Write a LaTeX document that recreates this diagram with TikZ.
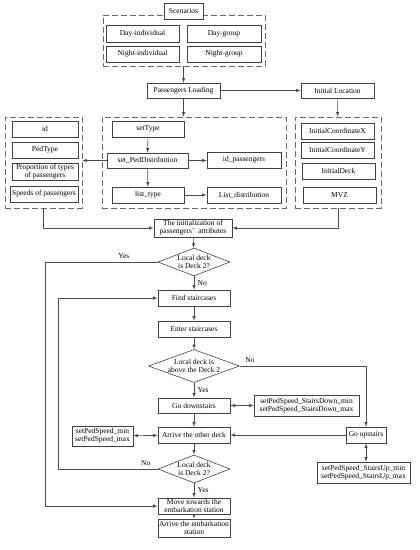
\documentclass[tikz,border=0pt]{standalone}
\usepackage{fontspec}
\setmainfont{Liberation Serif}
\usetikzlibrary{shapes.geometric}

\begin{document}
\begin{tikzpicture}[x=1pt,y=-1pt,>=latex,line width=0.6pt,
  every node/.style={font=\fontsize{7.5}{8.2}\selectfont},
  box/.style={draw=black!75,fill=white,inner sep=1pt,minimum width=73pt,minimum height=16pt,align=center},
  group/.style={draw=black!60,dash pattern=on 6pt off 3pt,minimum height=91pt,inner sep=0pt},
  decision/.style={draw=black!75,diamond,aspect=2.5,inner sep=0pt,align=center},
  line/.style={draw=black!70}]
\useasboundingbox (0,0) rectangle (420,550);

% scenarios
\node[group,minimum width=162pt,minimum height=51pt] (scen) at (184,40.5) {};
\node[box,minimum width=39pt] (scenarios) at (183.5,11) {Scenarios};
\node[box,minimum height=17pt] (dayind) at (142.5,33.5) {Day-individual};
\node[box,minimum width=74pt,minimum height=17pt] (daygrp) at (224,33.5) {Day-group};
\node[box] (nightind) at (142.5,54) {Night-individual};
\node[box,minimum width=74pt] (nightgrp) at (224,54) {Night-group};

\node[box,minimum height=15pt] (pl) at (183.5,90.5) {Passengers Loading};
\node[box,minimum height=15pt] (il) at (337.5,90.5) {Initial Location};

% attribute groups
\node[group,minimum width=77pt] (attr) at (43.5,162.5) {};
\node[box,minimum width=66pt] (id) at (45,129) {id};
\node[box,minimum width=66pt] (pedtype) at (45,150) {PedType};
\node[box,minimum width=66pt] (prop) at (45,172) {Proportion of types\\of passengers};
\node[box,minimum width=68pt] (speeds) at (44,194) {Speeds of passengers};

\node[group,minimum width=184pt] (dist) at (194,162.5) {};
\node[box,minimum width=72pt] (settype) at (148,129) {setType};
\node[box,minimum width=81pt,minimum height=15pt] (setdist) at (147.5,160.5) {set\_PedDistribution};
\node[box,minimum width=72pt] (listtype) at (148,195) {list\_type};
\node[box,minimum width=74pt] (idp) at (244,160) {id\_passengers};
\node[box,minimum width=74pt] (listdist) at (244,195) {List\_distribution};

\node[group,minimum width=86pt] (loc) at (338,162.5) {};
\node[box] (icx) at (337.5,131) {InitialCoordinateX};
\node[box] (icy) at (337.5,150) {InitialCoordinateY};
\node[box] (ideck) at (338.5,171) {InitialDeck};
\node[box] (mvz) at (339.5,195) {MVZ};

\node[box,minimum width=78pt,minimum height=18pt] (init) at (193,228) {The initialization of\\passengers’\ \ attributes};

% movement
\node[decision,minimum width=72pt,minimum height=28pt] (d1) at (194,262) {Local deck\\is Deck 2?};
\node[box,minimum width=72pt] (find) at (194,298) {Find staircases};
\node[box,minimum width=72pt] (enter) at (194,329) {Enter staircases};
\node[decision,aspect=2.7,minimum width=91pt,minimum height=33pt] (d2) at (194,366) {Local deck is\\above the Deck 2};
\node[box,minimum width=72pt,minimum height=15pt] (down) at (194,405.5) {Go downstairs};
\node[box,minimum width=105pt,minimum height=21pt] (sdown) at (306.5,405.5) {setPedSpeed\_StairsDown\_min\\setPedSpeed\_StairsDown\_max};
\node[box,minimum width=72pt] (arrive) at (194,435) {Arrive the other deck};
\node[box,minimum width=40pt] (up) at (366,435) {Go upstairs};
\node[box,minimum width=61pt,minimum height=20pt] (spd) at (102.5,436) {setPedSpeed\_min\\setPedSpeed\_max};
\node[box,minimum width=93pt,minimum height=21pt] (upspeed) at (363.5,472.5) {setPedSpeed\_StairsUp\_min\\setPedSpeed\_StairsUp\_max};
\node[decision,minimum width=72pt,minimum height=28pt] (d3) at (194,469) {Local deck\\is Deck 2?};
\node[box,minimum width=72pt] (move) at (194,506) {Move towards the\\embarkation station};
\node[box,minimum width=72pt,minimum height=18pt] (arrival) at (194,528) {Arrive the embarkation\\station};

\coordinate (outer) at (45,262);
\coordinate (inner) at (58,469);

\draw[line,->] (scen.south -| scenarios) -- (pl);
\draw[line,->] (pl) -- (pl.south |- dist.north);
\draw[line,->] (pl) -- (il);
\draw[line,->] (il) -- (loc);
\draw[line,->] (settype) -- (setdist);
\draw[line,->] (setdist) -- (listtype);
\draw[line,->] (setdist) -- (setdist -| idp.west);
\draw[line,->] (listtype) -- (listdist);
\draw[line,->] (setdist.west) -- (setdist.west -| attr.east);
\draw[line,->] (attr.south) |- (init.west);
\draw[line,->] (loc.south) |- (init.east);
\draw[line,->] (init) -- (d1);
\draw[line,->] (d1.west) -- node[above,pos=0.3]{Yes} (outer) |- (move.west);
\draw[line,->] (d1) -- node[right]{No} (find);
\draw[line,->] (find) -- (enter);
\draw[line,->] (enter) -- (d2);
\draw[line,->] (d2.east) -| node[above,pos=0.04]{No} (up.north);
\draw[line,->] (d2) -- node[right]{Yes} (down);
\draw[line,<->] (down) -- (sdown);
\draw[line,->] (down) -- (arrive);
\draw[line,->] (up) -- (arrive);
\draw[line,<->] (spd) -- (arrive);
\draw[line,<->] (up) -- (up |- upspeed.north);
\draw[line,->] (arrive) -- (d3);
\draw[line,->] (d3.west) -- node[above,pos=0.12]{No} (inner) |- (find.west);
\draw[line,->] (d3) -- node[right]{Yes} (move);
\draw[line,->] (move) -- (arrival);
\end{tikzpicture}
\end{document}
